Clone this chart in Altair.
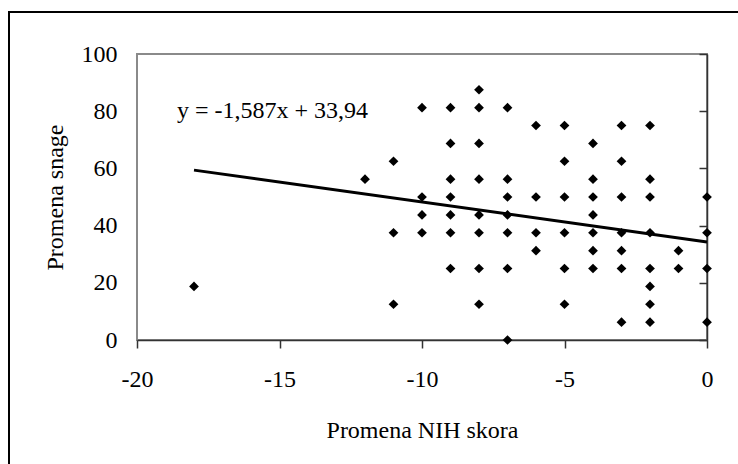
import altair as alt
import pandas as pd

# Scatter data: change in NIH score (x) vs change in strength (y)
nih_change = (
    [-18]
    + [-12]
    + [-11] * 3
    + [-10] * 4
    + [-9] * 7
    + [-8] * 8
    + [-7] * 7
    + [-6] * 4
    + [-5] * 6
    + [-4] * 7
    + [-3] * 7
    + [-2] * 8
    + [-1] * 2
    + [0] * 4
)
strength_change = [
    18.75,
    56.25,
    62.5, 37.5, 12.5,
    81.25, 50, 43.75, 37.5,
    81.25, 68.75, 56.25, 50, 43.75, 37.5, 25,
    87.5, 81.25, 68.75, 56.25, 43.75, 37.5, 25, 12.5,
    81.25, 56.25, 50, 43.75, 37.5, 25, 0,
    75, 50, 37.5, 31.25,
    75, 62.5, 50, 37.5, 25, 12.5,
    68.75, 56.25, 50, 43.75, 37.5, 31.25, 25,
    75, 62.5, 50, 37.5, 31.25, 25, 6.25,
    75, 56.25, 50, 37.5, 25, 18.75, 12.5, 6.25,
    31.25, 25,
    50, 37.5, 25, 6.25,
]

# Trend line as drawn (end points)
trend_x = [-18, 0]
trend_y = [59.4, 34.3]
equation_label = "y = -1,587x + 33,94"

x_ticks = [-20, -15, -10, -5, 0]
y_ticks = [0, 20, 40, 60, 80, 100]

FONT = "Liberation Serif"
W, H = 570, 286

pts = pd.DataFrame({"x": nih_change, "y": strength_change})
trend = pd.DataFrame({"x": trend_x, "y": trend_y})
lab = pd.DataFrame({"t": [equation_label]})

x_enc = alt.X(
    "x:Q",
    scale=alt.Scale(domain=[-20, 0], nice=False, zero=False),
    axis=alt.Axis(
        values=x_ticks,
        labelExpr="'' + datum.value",
        labelFlush=False,
        title="Promena NIH skora",
        grid=False,
        domainColor="#333333",
        domainWidth=1.5,
        tickColor="#333333",
        tickWidth=1.5,
        tickSize=8,
        labelFont=FONT,
        labelFontSize=24,
        labelColor="black",
        labelPadding=19,
        titleFont=FONT,
        titleFontSize=24,
        titleFontWeight="normal",
        titleColor="black",
        titlePadding=27,
    ),
)
y_enc = alt.Y(
    "y:Q",
    scale=alt.Scale(domain=[0, 100], nice=False),
    axis=alt.Axis(
        values=y_ticks,
        labelExpr="'' + datum.value",
        labelFlush=False,
        orient="left",
        offset=-W,
        title="Promena snage",
        grid=False,
        domainColor="#333333",
        domainWidth=1.5,
        tickColor="#333333",
        tickWidth=1.5,
        tickSize=8,
        labelFont=FONT,
        labelFontSize=24,
        labelColor="black",
        labelPadding=582,
        titleFont=FONT,
        titleFontSize=24,
        titleFontWeight="normal",
        titleColor="black",
        titleAngle=270,
        titleAlign="center",
        titleBaseline="alphabetic",
        titleX=-645,
        titleY=H / 2,
    ),
)

points = alt.Chart(pts).mark_point(
    shape="diamond", filled=True, color="black", size=95, opacity=1
).encode(x=x_enc, y=y_enc)

line = alt.Chart(trend).mark_line(color="black", strokeWidth=3).encode(
    x="x:Q", y="y:Q"
)

eq = alt.Chart(lab).mark_text(
    align="left", baseline="alphabetic", font=FONT, fontSize=24, color="black"
).encode(x=alt.value(40), y=alt.value(64), text="t:N")

border = alt.Chart(lab).mark_rect(
    fillOpacity=0, stroke="black", strokeWidth=2, clip=False
).encode(
    x=alt.value(-128), x2=alt.value(W + 60), y=alt.value(-42), y2=alt.value(H + 160)
)

chart = (
    alt.layer(border, line, points, eq)
    .properties(
        width=W,
        height=H,
        padding={"left": 137, "top": 54, "right": 31, "bottom": 124},
        autosize=alt.AutoSizeParams(type="none"),
        background="white",
    )
    .configure_view(stroke="#8a8a8a", strokeWidth=2)
)

chart.save("out.html", embed_options={"renderer": "svg", "actions": False})
